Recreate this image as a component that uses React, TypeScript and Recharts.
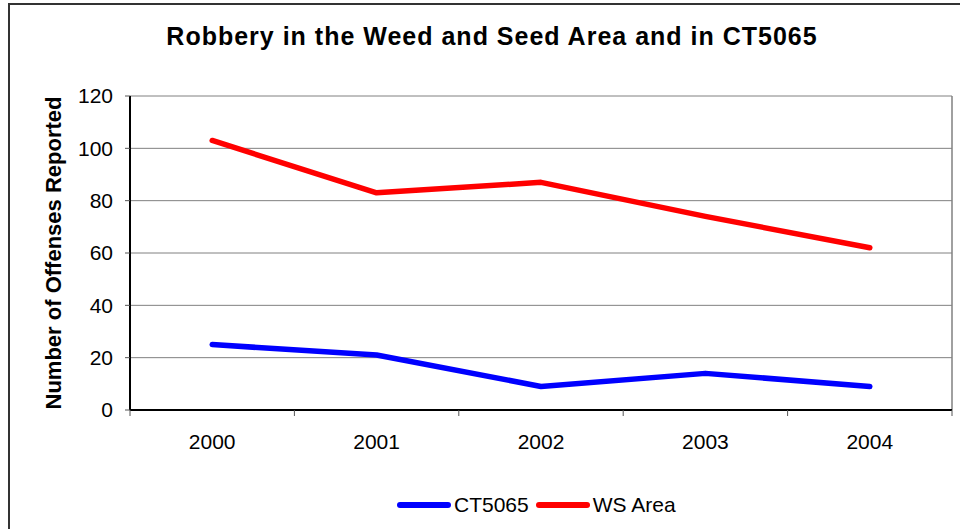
import React from 'react'
import {
    CartesianGrid,
    Legend,
    Line,
    LineChart,
    ReferenceLine,
    XAxis,
    YAxis
} from 'recharts'

const years = ['2000', '2001', '2002', '2003', '2004']
const ct5065 = [25, 21, 9, 14, 9]
const wsArea = [103, 83, 87, 74, 62]
const yTicks = [0, 20, 40, 60, 80, 100, 120]

const data = years.map((year, i) => ({
    idx: i,
    year,
    ct5065: ct5065[i],
    wsArea: wsArea[i]
}))

// tick marks sit between the categories, labels sit on them
const boundaryTicks = [...years.map((_, i) => i - 0.5), years.length - 0.5]
const labelTicks = years.map((_, i) => i)
const xDomain = [-0.5, years.length - 0.5]

const FONT = 'Arial, "Liberation Sans", sans-serif'

const renderLegend = (props: any) => {
    const { payload } = props
    return (
        <div
            style={{
                display: 'flex',
                alignItems: 'center',
                height: 48,
                paddingLeft: 396,
                fontFamily: FONT,
                fontSize: 21,
                color: '#000'
            }}
        >
            {payload?.map((entry: any) => (
                <span
                    key={entry.value}
                    style={{ display: 'flex', alignItems: 'center', marginRight: 6 }}
                >
                    <svg width={56} height={10}>
                        <line
                            x1={4}
                            y1={5}
                            x2={52}
                            y2={5}
                            stroke={entry.color}
                            strokeWidth={6}
                            strokeLinecap={'round'}
                        />
                    </svg>
                    <span style={{ marginLeft: 2 }}>{entry.value}</span>
                </span>
            ))}
        </div>
    )
}

const App: React.FC = () => (
    <div
        style={{
            position: 'fixed',
            left: 0,
            top: 0,
            width: 960,
            height: 529,
            overflow: 'hidden',
            background: '#fff',
            fontFamily: FONT
        }}
    >
        <div
            style={{
                position: 'absolute',
                left: 8,
                top: 3,
                width: 1000,
                height: 600,
                borderLeft: '2px solid #333',
                borderTop: '2px solid #333'
            }}
        />
        <div
            style={{
                position: 'absolute',
                left: 0,
                width: 984,
                top: 24,
                textAlign: 'center',
                fontSize: 25,
                lineHeight: '25px',
                fontWeight: 'bold',
                letterSpacing: 1,
                color: '#000'
            }}
        >
            Robbery in the Weed and Seed Area and in CT5065
        </div>
        <div style={{ position: 'absolute', left: 0, top: 0 }}>
            <LineChart
                width={960}
                height={529}
                data={data}
                margin={{ top: 96, right: 8, bottom: 0, left: 0 }}
            >
                <CartesianGrid
                    vertical={false}
                    stroke={'#808080'}
                />
                <XAxis
                    type={'number'}
                    dataKey={'idx'}
                    domain={xDomain}
                    ticks={boundaryTicks}
                    interval={0}
                    tickFormatter={() => ''}
                    tickSize={6}
                    height={1}
                    axisLine={{ stroke: '#000', strokeWidth: 2 }}
                    tickLine={{ stroke: '#555' }}
                />
                <XAxis
                    xAxisId={'labels'}
                    type={'number'}
                    dataKey={'idx'}
                    domain={xDomain}
                    ticks={labelTicks}
                    interval={0}
                    tickFormatter={(v: number) => years[v]}
                    axisLine={false}
                    tickLine={false}
                    tickSize={6}
                    tickMargin={17}
                    height={70}
                    tick={{ fill: '#000', fontSize: 21, fontFamily: FONT }}
                />
                <YAxis
                    width={130}
                    domain={[0, 120]}
                    ticks={yTicks}
                    tickSize={5}
                    tickMargin={12}
                    axisLine={{ stroke: '#000', strokeWidth: 2 }}
                    tickLine={{ stroke: '#555' }}
                    tick={{ fill: '#000', fontSize: 21, fontFamily: FONT }}
                    label={{
                        value: 'Number of Offenses Reported',
                        angle: -90,
                        position: 'insideLeft',
                        offset: 53,
                        style: {
                            textAnchor: 'middle',
                            fontSize: 22,
                            fontWeight: 'bold',
                            fontFamily: FONT,
                            fill: '#000'
                        }
                    }}
                />
                <ReferenceLine
                    x={xDomain[1]}
                    stroke={'#808080'}
                    strokeWidth={1.5}
                />
                <Legend
                    verticalAlign={'bottom'}
                    content={renderLegend}
                />
                <Line
                    name={'CT5065'}
                    dataKey={'ct5065'}
                    stroke={'#0000FF'}
                    strokeWidth={5.5}
                    strokeLinecap={'round'}
                    strokeLinejoin={'round'}
                    dot={false}
                    activeDot={false}
                    isAnimationActive={false}
                />
                <Line
                    name={'WS Area'}
                    dataKey={'wsArea'}
                    stroke={'#FF0000'}
                    strokeWidth={5.5}
                    strokeLinecap={'round'}
                    strokeLinejoin={'round'}
                    dot={false}
                    activeDot={false}
                    isAnimationActive={false}
                />
            </LineChart>
        </div>
    </div>
)

export default App
